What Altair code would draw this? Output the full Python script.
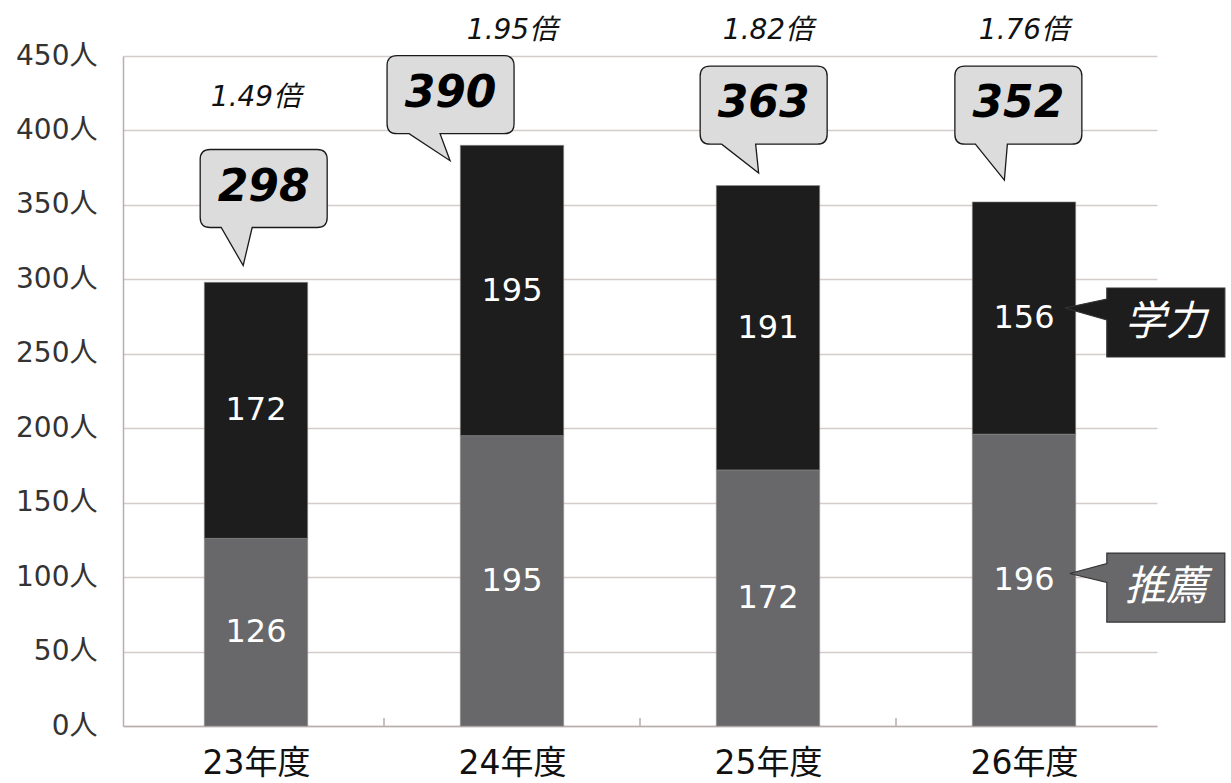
import altair as alt
import pandas as pd

# ---- data ----
years = ["23年度", "24年度", "25年度", "26年度"]
suisen = [126, 195, 172, 196]        # 推薦 (bottom segment)
gakuryoku = [172, 195, 191, 156]     # 学力 (top segment)
totals = [298, 390, 363, 352]
ratios = ["1.49倍", "1.95倍", "1.82倍", "1.76倍"]
series = ["推薦", "学力"]
y_ticks = list(range(0, 451, 50))

# ---- annotation layout (not data) ----
callout_shift = [0.03, -0.24, -0.017, -0.022]   # in category units
callout_lift = [63, 34, 54, 65]                 # 人 above bar top
ratio_y = [422, 467, 467, 467]
# tail: tip dx, tip dy, base x1, base x2 (pixels, relative to bubble centre)
callout_tails = [(-20.5, 77, -42.5, -11.5), (-0.5, 66, -41.5, -10.5),
                 (-5, 68, -42, -8), (-14, 75, -43, -11)]
legend_y = [93, 271]                            # 推薦, 学力 bubble centre (人)
legend_x = 3.554
legend_tails = [(-96, -14, -24, -5), (-101, -14.5, -23.5, -2.5)]

CJK = "Noto Sans CJK JP"
MIX = "DejaVu Sans, Noto Sans CJK JP"
colors = ["#68686a", "#1d1d1d"]


def f(v):
    return f"{v:.1f}"


def bubble_bottom(w, h, r, tail):
    tx, ty, b1, b2 = tail
    return (f"M{f(-w+r)},{f(-h)} L{f(w-r)},{f(-h)} Q{f(w)},{f(-h)} {f(w)},{f(-h+r)} "
            f"L{f(w)},{f(h-r)} Q{f(w)},{f(h)} {f(w-r)},{f(h)} L{f(b2)},{f(h)} L{f(tx)},{f(ty)} "
            f"L{f(b1)},{f(h)} L{f(-w+r)},{f(h)} Q{f(-w)},{f(h)} {f(-w)},{f(h-r)} "
            f"L{f(-w)},{f(-h+r)} Q{f(-w)},{f(-h)} {f(-w+r)},{f(-h)} Z")


def bubble_left(w, h, tail):
    tx, ty, b1, b2 = tail
    return (f"M{f(-w)},{f(-h)} L{f(w)},{f(-h)} L{f(w)},{f(h)} L{f(-w)},{f(h)} "
            f"L{f(-w)},{f(b2)} L{f(tx)},{f(ty)} L{f(-w)},{f(b1)} Z")


rows = []
for i, y in enumerate(years):
    rows.append({"x": i, "year": y, "series": series[0], "value": suisen[i], "ord": 0,
                 "mid": suisen[i] / 2})
    rows.append({"x": i, "year": y, "series": series[1], "value": gakuryoku[i], "ord": 1,
                 "mid": suisen[i] + gakuryoku[i] / 2})
bars_df = pd.DataFrame(rows)

callout_df = pd.DataFrame({
    "x": [i + s for i, s in enumerate(callout_shift)],
    "y": [t + l for t, l in zip(totals, callout_lift)],
    "label": [str(t) for t in totals],
    "path": [bubble_bottom(63.5, 39, 10, tl) for tl in callout_tails],
})

ratio_df = pd.DataFrame({"x": list(range(len(years))), "y": ratio_y, "label": ratios})

legend_df = pd.DataFrame({
    "x": [legend_x, legend_x],
    "y": legend_y,
    "series": series,
    "path": [bubble_left(59, 34.5, tl) for tl in legend_tails],
})

tick_df = pd.DataFrame({"x": [i + 0.5 for i in range(len(years) - 1)]})

xscale = alt.Scale(domain=[-0.5, len(years) - 0.5], nice=False, zero=False)
yscale = alt.Scale(domain=[0, 450], nice=False)
cscale = alt.Scale(domain=series, range=colors)

label_js = "[" + ",".join(f"'{y}'" for y in years) + "][datum.value]"

xaxis = alt.Axis(values=list(range(len(years))), labelExpr=label_js, ticks=False,
                 grid=False, domainColor="#b8aeae", domainWidth=1.5,
                 labelFont=MIX, labelFontSize=33, labelColor="#111",
                 labelPadding=21, title=None)
yaxis = alt.Axis(values=y_ticks, labelExpr="datum.value + '人'", ticks=False,
                 gridColor="#d6cbcb", gridWidth=1.3, domainColor="#b8aeae",
                 domainWidth=1.5, labelFont=MIX, labelFontSize=28,
                 labelColor="#333", labelPadding=26, title=None)


def X(field):
    return alt.X(field, scale=xscale, axis=xaxis, title=None)


def Y(field, **kw):
    return alt.Y(field, scale=yscale, axis=yaxis, title=None, **kw)


bars = alt.Chart(bars_df).mark_bar(size=103.4, stroke="#8f8f8f", strokeWidth=0.6).encode(
    x=X("x:Q"),
    y=Y("value:Q", stack="zero"),
    color=alt.Color("series:N", scale=cscale, legend=None),
    order=alt.Order("ord:Q"),
)

seg_text = alt.Chart(bars_df).mark_text(color="white", font=MIX, fontSize=32,
                                        baseline="middle").encode(
    x=X("x:Q"),
    y=Y("mid:Q"),
    text="value:Q",
)

ticks = alt.Chart(tick_df).mark_rule(color="#b8aeae", strokeWidth=1.5).encode(
    x=X("x:Q"),
    y=alt.value(670),
    y2=alt.value(662),
)

callouts = alt.Chart(callout_df).mark_point(size=4, filled=True, fill="#dcdcdc",
                                            stroke="#1a1a1a", strokeWidth=1.3,
                                            opacity=1, fillOpacity=1,
                                            strokeOpacity=1).encode(
    x=X("x:Q"),
    y=Y("y:Q"),
    shape=alt.Shape("path:N", scale=None, legend=None),
)

callout_text = alt.Chart(callout_df).mark_text(font=MIX, fontSize=44, fontStyle="italic",
                                               fontWeight="bold", color="#000",
                                               baseline="middle", dy=-1).encode(
    x=X("x:Q"),
    y=Y("y:Q"),
    text="label:N",
)

ratio_text = alt.Chart(ratio_df).mark_text(font=MIX, fontSize=28, fontStyle="italic",
                                           color="#111", baseline="middle").encode(
    x=X("x:Q"),
    y=Y("y:Q"),
    text="label:N",
)

legend_box = alt.Chart(legend_df).mark_point(size=4, filled=True, stroke="#333",
                                             strokeWidth=1.2, opacity=1, fillOpacity=1,
                                             strokeOpacity=1).encode(
    x=X("x:Q"),
    y=Y("y:Q"),
    shape=alt.Shape("path:N", scale=None, legend=None),
    fill=alt.Fill("series:N", scale=cscale, legend=None),
)

legend_text = alt.Chart(legend_df).mark_text(font=CJK, fontSize=41, fontStyle="italic",
                                             color="white", baseline="middle").encode(
    x=X("x:Q"),
    y=Y("y:Q"),
    text="series:N",
)

chart = alt.layer(bars, seg_text, ticks, callouts, callout_text, ratio_text,
                  legend_box, legend_text).properties(
    width=1034, height=670,
    autosize=alt.AutoSizeParams(type="none"),
    padding={"left": 123, "top": 56, "right": 74, "bottom": 57},
    background="white",
).configure_view(stroke=None)

chart.save("out.html", embed_options={"renderer": "svg", "actions": False})
